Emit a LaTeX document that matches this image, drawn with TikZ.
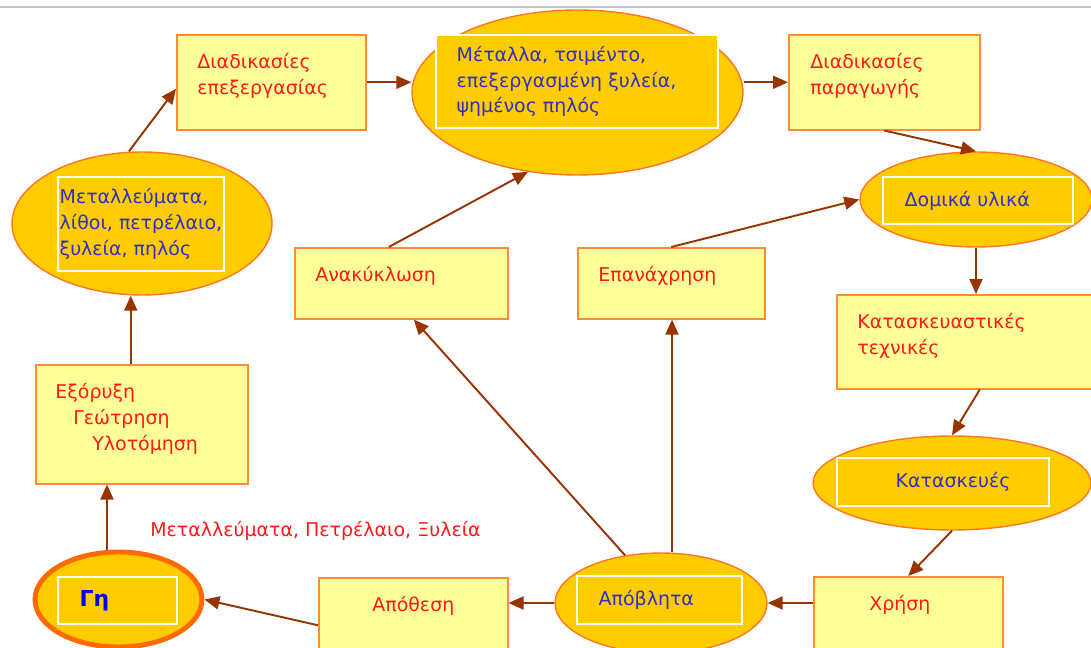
\documentclass[tikz,border=0pt]{standalone}
\usepackage{fontspec}
\setmainfont{DejaVu Sans}
\usetikzlibrary{shapes.geometric, arrows.meta, calc}

\definecolor{boxfill}{HTML}{FFFF99}
\definecolor{boxline}{HTML}{FF8C33}
\definecolor{ovalfill}{HTML}{FFCC00}
\definecolor{ovalline}{HTML}{FF7722}
\definecolor{earthline}{HTML}{FF6A00}
\definecolor{arrowbrown}{HTML}{993300}
\definecolor{textred}{HTML}{FF1A1A}
\definecolor{textblue}{HTML}{3030C0}
\definecolor{pureblue}{HTML}{0000FF}

\tikzset{
    stage/.style={rectangle, draw=boxline, fill=boxfill, line width=0.9pt, anchor=north west, inner sep=0pt},
    stagetext/.style={anchor=north west, inner sep=0pt, align=left, text=textred, font=\fontsize{10.8}{14.7}\selectfont},
    resource/.style={ellipse, draw=ovalline, fill=ovalfill, line width=0.8pt, inner sep=0pt},
    frame/.style={rectangle, draw=white, fill=ovalfill, line width=0.8pt, inner sep=0pt},
    frametext/.style={anchor=west, inner sep=0pt, align=left, text=textblue, font=\fontsize{10.8}{14.7}\selectfont},
    flow/.style={draw=arrowbrown, line width=1.1pt, -{Triangle[length=0.3cm,width=0.26cm]}}
}

\begin{document}
\begin{tikzpicture}[x=0.02cm, y=-0.02cm]
\clip (0,0) rectangle (1091,648);
\draw[gray!45, line width=0.6pt] (0,7) -- (1091,7);

% ===== Left column =====
\node[resource, draw=earthline, line width=2.8pt, minimum width=3.34cm, minimum height=1.9cm] (gi) at (118.5,599.5) {};
\node[frame, minimum width=2.38cm, minimum height=0.94cm] (gi-f) at (117.5,600.5) {};
\node[frametext, text=pureblue, font=\fontsize{12.5}{14.7}\selectfont\bfseries] (gi-t) at ([xshift=0.44cm]gi-f.west) {Γη};

\node[stage, minimum width=4.24cm, minimum height=2.38cm] (exoryxi) at (35,364) {};
\node[stagetext] (exoryxi-t) at ($(exoryxi.north west)+(20,19)$)
    {Εξόρυξη\\\hspace*{0.36cm}Γεώτρηση\\\hspace*{0.74cm}Υλοτόμηση};

\node[resource, minimum width=5.2cm, minimum height=2.86cm] (ores) at (142,223.5) {};
\node[frame, minimum width=3.32cm, minimum height=1.88cm] (ores-f) at (141,224) {};
\node[frametext] (ores-t) at ([xshift=0.04cm]ores-f.west)
    {Μεταλλεύματα,\\λίθοι, πετρέλαιο,\\ξυλεία, πηλός};

\node[stage, minimum width=3.78cm, minimum height=1.9cm] (epex) at (176,34) {};
\node[stagetext] (epex-t) at ($(epex.north west)+(21,19)$) {Διαδικασίες\\επεξεργασίας};

% ===== Top row =====
\node[resource, minimum width=6.62cm, minimum height=3.3cm] (metalla) at (577.5,92.5) {};
\node[frame, minimum width=5.64cm, minimum height=1.86cm] (metalla-f) at (577,81.5) {};
\node[frametext] (metalla-t) at ([xshift=0.42cm]metalla-f.west)
    {Μέταλλα, τσιμέντο,\\επεξεργασμένη ξυλεία,\\ψημένος πηλός};

\node[stage, minimum width=3.82cm, minimum height=1.9cm] (parag) at (788,34) {};
\node[stagetext] (parag-t) at ($(parag.north west)+(22,19)$) {Διαδικασίες\\παραγωγής};

% ===== Right column =====
\node[resource, minimum width=4.64cm, minimum height=1.9cm] (domika) at (976,199.5) {};
\node[frame, minimum width=3.8cm, minimum height=0.94cm] (domika-f) at (978,200.5) {};
\node[frametext] (domika-t) at ([xshift=0.44cm]domika-f.west) {Δομικά υλικά};

\node[stage, minimum width=5.72cm, minimum height=1.88cm] (kattech) at (836,294) {};
\node[stagetext] (kattech-t) at ($(kattech.north west)+(21,19)$) {Κατασκευαστικές\\τεχνικές};

\node[resource, minimum width=5.56cm, minimum height=1.88cm] (kataskeues) at (952,483) {};
\node[frame, minimum width=4.24cm, minimum height=0.96cm] (kataskeues-f) at (943,482) {};
\node[frametext] (kataskeues-t) at ([xshift=1.18cm]kataskeues-f.west) {Κατασκευές};

% ===== Bottom row =====
\node[stage, minimum width=3.78cm, minimum height=1.9cm] (xrisi) at (813,576) {};
\node[stagetext] (xrisi-t) at ($(xrisi.north west)+(56,19)$) {Χρήση};

\node[resource, minimum width=4.24cm, minimum height=2.0cm] (apovlita) at (661,603) {};
\node[frame, minimum width=3.3cm, minimum height=0.96cm] (apovlita-f) at (659.5,600) {};
\node[frametext] (apovlita-t) at ([xshift=0.44cm]apovlita-f.west) {Απόβλητα};

\node[stage, minimum width=3.78cm, minimum height=1.9cm] (apothesi) at (318,577) {};
\node[stagetext] (apothesi-t) at ($(apothesi.north west)+(54,19)$) {Απόθεση};

% ===== Middle =====
\node[stage, minimum width=4.26cm, minimum height=1.42cm] (anakyklosi) at (294,247) {};
\node[stagetext] (anakyklosi-t) at ($(anakyklosi.north west)+(21,19)$) {Ανακύκλωση};

\node[stage, minimum width=3.74cm, minimum height=1.42cm] (epanaxrisi) at (577,247) {};
\node[stagetext] (epanaxrisi-t) at ($(epanaxrisi.north west)+(21,19)$) {Επανάχρηση};

\node[anchor=west, inner sep=0pt, text=textred, font=\fontsize{10.8}{14.7}\selectfont] (ores-label) at (150,531)
    {Μεταλλεύματα, Πετρέλαιο, Ξυλεία};

% ===== Flows =====
\draw[flow] ([xshift=-0.23cm]gi.north) -- ([xshift=-0.23cm]gi.north |- exoryxi.south);
\draw[flow] ([xshift=-0.22cm]exoryxi.north) -- ([xshift=-0.22cm]exoryxi.north |- ores.south);
\draw[flow] ([xshift=-0.26cm]ores.north) -- ([yshift=-0.13cm]epex.west);
\draw[flow] (epex.east) -- (epex.east -| metalla.west);
\draw[flow] (metalla.east |- parag.west) -- (parag.west);
\draw[flow] (parag.south) -- (domika.north);
\draw[flow] (domika.south) -- (domika.south |- kattech.north);
\draw[flow] (kattech.south) -- (kataskeues.north);
\draw[flow] (kataskeues.south) -- (xrisi.north);
\draw[flow] (xrisi.west |- apovlita.east) -- (apovlita.east);
\draw[flow] (apovlita.west) -- (apovlita.west -| apothesi.east);
\draw[flow] (apothesi.west) -- (gi.east);
\draw[flow] (apovlita.127) -- ([xshift=0.25cm]anakyklosi.south);
\draw[flow] ([xshift=0.22cm]apovlita.north) -- ([xshift=0.22cm]apovlita.north |- epanaxrisi.south);
\draw[flow] ([xshift=-0.25cm]anakyklosi.north) -- (metalla.238);
\draw[flow] (epanaxrisi.north) -- (domika.west);
\end{tikzpicture}
\end{document}
